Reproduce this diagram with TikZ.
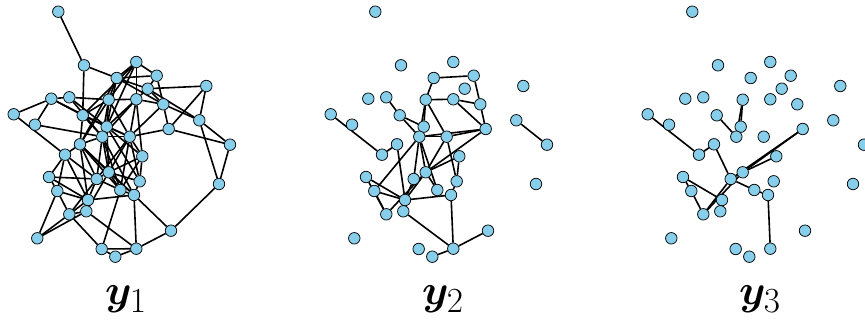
\documentclass[tikz,border=0pt]{standalone}
\usepackage{bm}
\usetikzlibrary{backgrounds}
\definecolor{nodeblue}{RGB}{135,206,235}
\tikzset{
  gnode/.style={circle,draw=black,fill=nodeblue,line width=0.75pt,inner sep=0pt,minimum size=11.5pt},
  gedge/.style={line width=1.6pt,black},
  glabel/.style={inner sep=0pt,font=\Huge,scale=1.7,transform shape}
}
\begin{document}
\begin{tikzpicture}[x=1pt,y=-1pt]
\useasboundingbox (0,0) rectangle (865,323);
\foreach \i/\x/\y in {
 1/58.3/11.7, 2/84/65.3, 3/136.3/62, 4/116.7/78, 5/156.7/75.7, 6/147.7/88.7,
 7/206.3/86, 8/51.3/98.7, 9/69.3/97.3, 10/108.7/99.7, 11/136.3/99.3, 12/163.3/104.3,
 13/13.7/114.3, 14/35/124.7, 15/82.7/115.3, 16/106.7/126.7, 17/102.3/136.7, 18/129.7/136.7,
 19/168.7/129, 20/199.3/120.3, 21/230/144.7, 22/80/144.3, 23/65/154.7, 24/142.3/156.3,
 25/49/177, 26/108.7/172.3, 27/96.7/179, 28/139.7/181.3, 29/57.3/191, 30/120.3/190,
 31/134/195, 32/88/200, 33/219/184, 34/69.3/214.3, 35/86.3/211.3, 36/171/230.7,
 37/37.3/238.3, 38/101.7/249, 39/136.3/248.7, 40/115.3/256.7} {
  \node[gnode] (a\i) at (\x,\y) {};
  \node[gnode] (b\i) at (\x+317,\y) {};
  \node[gnode] (c\i) at (\x+634,\y) {};
}
\begin{scope}[on background layer]
\foreach \p/\q in {1/2, 2/4, 2/15, 3/4, 3/5, 3/10, 3/11, 3/15, 3/16, 4/5, 4/6, 4/10, 4/16,
 4/12, 4/22, 5/6, 5/12, 6/7, 6/11, 6/12, 6/20, 7/19, 7/20, 12/20, 12/19, 11/12, 12/18,
 19/21, 20/21, 20/33, 21/33, 33/36, 36/39, 31/36, 31/39, 38/39, 38/40, 39/40, 34/38,
 35/39, 30/38, 37/29, 37/34, 37/35, 34/35, 32/35, 29/34, 29/32, 25/29, 25/32, 25/27,
 23/25, 23/27, 23/29, 23/32, 22/23, 13/8, 13/23, 8/14, 8/9, 8/15, 8/16, 9/10, 9/16,
 9/17, 14/17, 15/16, 15/17, 15/18, 15/22, 10/11, 10/15, 10/16, 10/17, 10/18, 10/22,
 11/16, 11/17, 11/18, 11/24, 16/17, 16/18, 17/18, 18/19, 18/24, 18/26, 18/27, 18/28,
 18/30, 17/22, 17/26, 17/27, 17/30, 16/26, 16/28, 22/26, 22/27, 22/32, 22/30, 24/28,
 24/26, 24/30, 26/27, 26/28, 26/30, 26/31, 27/30, 27/32, 28/31, 30/31, 32/31, 32/34,
 26/35, 27/34, 16/24, 17/31, 22/31}
  \draw[gedge] (a\p) -- (a\q);
\foreach \p/\q in {4/5, 4/10, 5/12, 10/11, 11/12, 11/19, 12/19, 10/16, 10/17, 10/18,
 9/15, 15/16, 15/17, 16/17, 17/18, 18/19, 17/19, 13/23, 22/23, 22/32, 20/21, 17/26,
 17/27, 17/30, 18/26, 18/28, 19/26, 24/28, 24/26, 17/29, 25/32, 25/34, 29/32, 29/34,
 32/26, 34/26, 32/31, 26/30, 35/39, 31/39, 39/36, 39/40, 28/31, 27/32}
  \draw[gedge] (b\p) -- (b\q);
\foreach \p/\q in {13/23, 22/23, 22/27, 27/26, 26/19, 27/19, 26/24, 27/30, 30/31,
 31/39, 25/32, 25/29, 29/34, 34/27, 34/26, 15/17, 10/16, 10/17}
  \draw[gedge] (c\p) -- (c\q);
\end{scope}
\node[glabel] (l1) at (126,299) {$\bm{y}_1$};
\node[glabel] (l2) at (443,299) {$\bm{y}_2$};
\node[glabel] (l3) at (760,299) {$\bm{y}_3$};
\end{tikzpicture}
\end{document}
